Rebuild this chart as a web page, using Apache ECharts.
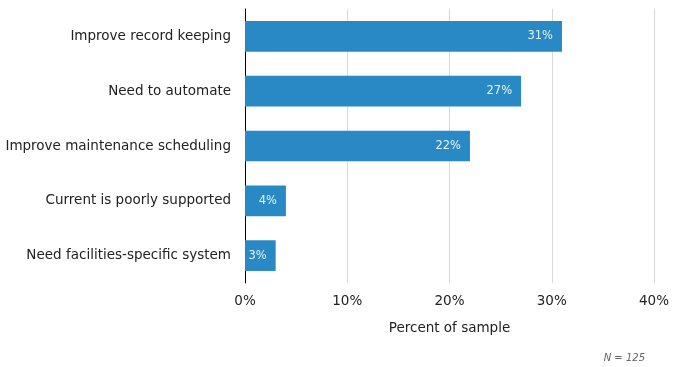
<!DOCTYPE html>
<html><head><meta charset="utf-8">
<script src="https://cdn.jsdelivr.net/npm/echarts@6/dist/echarts.min.js"></script>
<style>html,body{margin:0;padding:0;background:#fff}#c{width:675px;height:367px}</style>
</head><body><div id="c"></div>
<script>
const categories = ["Improve record keeping","Need to automate","Improve maintenance scheduling","Current is poorly supported","Need facilities-specific system"];
const values = [31,27,22,4,3];
const xTicks = [0,10,20,30,40];
const axisTitle = "Percent of sample";
const note = "N = 125";

const chart = echarts.init(document.getElementById('c'), null, {renderer:'canvas'});
chart.setOption({
  animation:false,
  grid:{left:245,right:21,top:9,bottom:84,containLabel:false},
  xAxis:{type:'value',min:xTicks[0],max:xTicks[xTicks.length-1],interval:10,
    name:axisTitle,nameLocation:'middle',nameGap:38,
    nameTextStyle:{fontFamily:'DejaVu Sans',fontSize:13.5,color:'#222'},
    axisLine:{show:false},axisTick:{show:false},
    axisLabel:{formatter:'{value}%',fontFamily:'DejaVu Sans',fontSize:13.5,color:'#222',margin:11},
    splitLine:{lineStyle:{color:'#d9d9d9',width:1}}},
  yAxis:{type:'category',data:categories,inverse:true,
    axisLine:{lineStyle:{color:'#000',width:1}},axisTick:{show:false},
    axisLabel:{fontFamily:'DejaVu Sans',fontSize:13.5,color:'#222',margin:14}},
  series:[{type:'bar',data:values,barCategoryGap:'44%',
    itemStyle:{color:'#2889c5'},
    label:{show:true,position:'insideRight',formatter:'{c}%',color:'#eaf2f8',
      fontFamily:'DejaVu Sans',fontSize:11.5,distance:9}}],
  graphic:[{type:'text',right:30,top:353,style:{text:note,fontFamily:'DejaVu Sans',fontStyle:'italic',fontSize:10,fill:'#666'}}]
});
</script></body></html>
